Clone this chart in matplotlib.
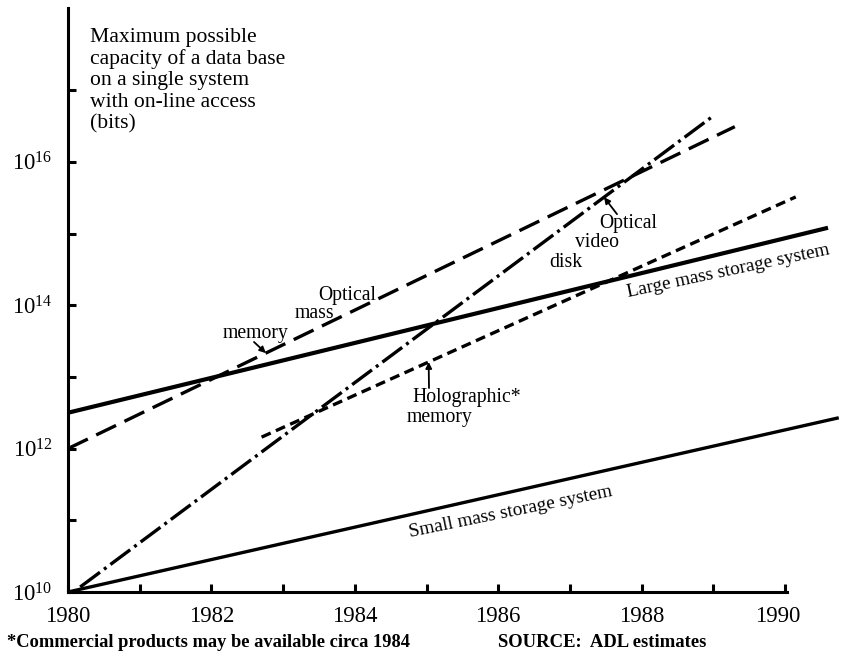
import numpy as np
import matplotlib
matplotlib.use("Agg")
import matplotlib.pyplot as plt
import matplotlib.transforms as mtransforms
from matplotlib.ticker import FixedLocator, FixedFormatter, NullLocator

plt.rcParams["font.family"] = "Liberation Serif"
plt.rcParams["mathtext.fontset"] = "custom"
plt.rcParams["mathtext.rm"] = "Liberation Serif"

# End points of each trend line: year and capacity in bits
smallYears = [1980.0, 1990.75]
smallBits = [1e10, 10 ** 12.43]
largeYears = [1980.0, 1990.6]
largeBits = [10 ** 12.5, 10 ** 15.08]
opticalMassYears = [1980.0, 1989.3]
opticalMassBits = [1e12, 10 ** 16.49]
videoDiskYears = [1980.17, 1989.0]
videoDiskBits = [10 ** 10.07, 10 ** 16.64]
holographicYears = [1982.7, 1990.15]
holographicBits = [10 ** 12.16, 10 ** 15.51]

yearTicks = list(range(1980, 1991))
yearLabels = [str(y) if y % 2 == 0 else "" for y in yearTicks]
decadeTicks = [10.0 ** k for k in range(10, 18)]
decadeLabels = [r"$\mathrm{10^{%d}}$" % k if k % 2 == 0 else "" for k in range(10, 18)]

headingLines = ["Maximum possible", "capacity of a data base", "on a single system",
                "with on-line access", "(bits)"]
footNote = "*Commercial products may be available circa 1984"
sourceNote = "SOURCE:  ADL estimates"


def pointOnLine(years, bits, year):
    """Capacity of a straight (log scale) trend line at the given year"""
    return 10 ** np.interp(year, years, np.log10(bits))


def main():
    fig = plt.figure(figsize=(8.42, 6.58), dpi=100)
    ax = fig.add_axes([68 / 842, 66 / 658, 774 / 842, 8.2 * 71.7 / 658])
    ax.set_yscale("log")
    ax.set_xlim(1980, 1980 + 774 / 71.7)
    ax.set_ylim(1e10, 10 ** 18.2)

    # axes: only left and bottom, ticks pointing inward
    for side in ["top", "right"]:
        ax.spines[side].set_visible(False)
    for side in ["left", "bottom"]:
        ax.spines[side].set_linewidth(2.2)
    ax.spines["bottom"].set_bounds(1980, 1990.03)
    ax.spines["left"].set_bounds(1e10, 10 ** 18.15)

    ax.xaxis.set_major_locator(FixedLocator(yearTicks))
    ax.xaxis.set_major_formatter(FixedFormatter(yearLabels))
    ax.yaxis.set_major_locator(FixedLocator(decadeTicks))
    ax.yaxis.set_major_formatter(FixedFormatter(decadeLabels))
    ax.yaxis.set_minor_locator(NullLocator())
    ax.tick_params(direction="in", length=6, width=2.2, labelsize=16.4)
    ax.tick_params(axis="x", pad=10)
    ax.tick_params(axis="y", pad=11)

    # the 1990 label sits a little left of its tick
    lastTick = ax.xaxis.get_major_ticks()[-1]
    shift = mtransforms.ScaledTranslation(-7 / 100, 0, fig.dpi_scale_trans)
    lastTick.label1.set_transform(lastTick.label1.get_transform() + shift)

    # trend lines
    ax.plot(smallYears, smallBits, color="black", lw=2.4, solid_capstyle="butt")
    ax.plot(largeYears, largeBits, color="black", lw=3.0, solid_capstyle="butt")
    ax.plot(opticalMassYears, opticalMassBits, color="black", lw=2.4, dashes=(6.6, 2.8))
    ax.plot(videoDiskYears, videoDiskBits, color="black", lw=2.4, dashes=(7.4, 1.5, 0.9, 1.5))
    ax.plot(holographicYears, holographicBits, color="black", lw=2.4, dashes=(3.0, 1.7))

    labelSize = 14.2
    ax.text(1983.487, 10 ** 14.073, "Optical", fontsize=labelSize, va="baseline")
    ax.text(1983.166, 10 ** 13.815, "mass", fontsize=labelSize, va="baseline")
    ax.text(1982.162, 10 ** 13.543, "memory", fontsize=labelSize, va="baseline")
    ax.text(1984.798, 10 ** 12.654, "Holographic*", fontsize=labelSize, va="baseline")
    ax.text(1984.728, 10 ** 12.375, "memory", fontsize=labelSize, va="baseline")
    ax.text(1987.406, 10 ** 15.073, "Optical", fontsize=labelSize, va="baseline")
    ax.text(1987.071, 10 ** 14.808, "video", fontsize=labelSize, va="baseline")
    ax.text(1986.708, 10 ** 14.537, "disk", fontsize=labelSize, va="baseline")
    ax.text(1989.205, 10 ** 14.477, "Large mass storage system", fontsize=13.9,
            rotation=12, ha="center", va="center", rotation_mode="anchor")
    ax.text(1986.178, 10 ** 11.116, "Small mass storage system", fontsize=13.9,
            rotation=11.5, ha="center", va="center", rotation_mode="anchor")

    # small arrows from labels to their lines
    arrowStyle = dict(arrowstyle="-|>", color="black", lw=1.3, mutation_scale=9,
                      shrinkA=0, shrinkB=0)
    ax.annotate("", xy=(1982.76, pointOnLine(opticalMassYears, opticalMassBits, 1982.76)),
                xytext=(1982.594, 10 ** 13.487), arrowprops=arrowStyle)
    ax.annotate("", xy=(1985.03, pointOnLine(holographicYears, holographicBits, 1985.03)),
                xytext=(1985.035, 10 ** 12.845), arrowprops=arrowStyle)
    ax.annotate("", xy=(1987.476, pointOnLine(videoDiskYears, videoDiskBits, 1987.476)),
                xytext=(1987.657, 10 ** 15.27), arrowprops=arrowStyle)

    # heading inside the plot area, one line at a time
    for i, line in enumerate(headingLines):
        fig.text(90 / 842, 1 - (42 + 21.7 * i) / 658, line, fontsize=15.6, va="baseline")

    fig.text(7 / 842, 11 / 658, footNote, fontsize=13.3, fontweight="bold", va="baseline")
    fig.text(498 / 842, 11 / 658, sourceNote, fontsize=13.4, fontweight="bold", va="baseline")

    fig.savefig("out.png", dpi=100)


if __name__ == "__main__":
    main()
